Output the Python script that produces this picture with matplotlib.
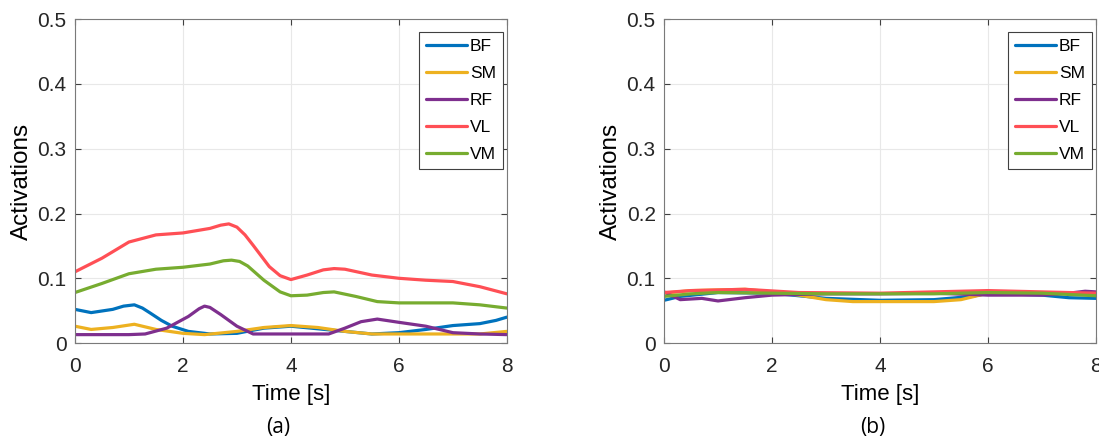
import matplotlib
matplotlib.use('Agg')
import matplotlib.pyplot as plt
import numpy as np

plt.rcParams['font.family'] = ['Liberation Sans', 'DejaVu Sans']
plt.rcParams['font.size'] = 14

muscles = ['BF', 'SM', 'RF', 'VL', 'VM']
colors = ['#0072BD', '#EDB120', '#7E2F8E', '#FF4F55', '#77AC30']

# (a) values, (t, activation)
a_BF = [(0, 0.052), (0.3, 0.047), (0.7, 0.052), (0.9, 0.057), (1.1, 0.059), (1.25, 0.054), (1.4, 0.046),
        (1.6, 0.035), (1.8, 0.026), (2.1, 0.018), (2.5, 0.014), (3.0, 0.015), (3.5, 0.023), (4.0, 0.026),
        (4.5, 0.022), (5.0, 0.018), (5.5, 0.014), (6.0, 0.016), (6.5, 0.021), (7.0, 0.027), (7.5, 0.030),
        (7.8, 0.035), (8.0, 0.040)]
a_SM = [(0, 0.026), (0.3, 0.021), (0.7, 0.024), (1.1, 0.029), (1.5, 0.021), (2.0, 0.015), (2.4, 0.013),
        (3.0, 0.018), (3.5, 0.024), (4.0, 0.027), (4.5, 0.024), (5.0, 0.018), (5.5, 0.014), (6.0, 0.014),
        (7.0, 0.014), (7.5, 0.014), (8.0, 0.018)]
a_RF = [(0, 0.013), (1.0, 0.013), (1.3, 0.014), (1.7, 0.023), (2.1, 0.041), (2.3, 0.053), (2.4, 0.057),
        (2.5, 0.055), (2.7, 0.044), (3.0, 0.026), (3.3, 0.014), (4.0, 0.014), (4.7, 0.014), (5.0, 0.023),
        (5.3, 0.033), (5.6, 0.037), (6.0, 0.032), (6.5, 0.026), (7.0, 0.016), (7.5, 0.014), (8.0, 0.013)]
a_VL = [(0, 0.110), (0.5, 0.131), (1.0, 0.156), (1.5, 0.167), (2.0, 0.170), (2.5, 0.177), (2.7, 0.182),
        (2.85, 0.184), (3.0, 0.179), (3.15, 0.167), (3.3, 0.151), (3.6, 0.118), (3.8, 0.104), (4.0, 0.098),
        (4.3, 0.105), (4.6, 0.113), (4.8, 0.115), (5.0, 0.114), (5.5, 0.105), (6.0, 0.100), (6.5, 0.097),
        (7.0, 0.095), (7.5, 0.087), (8.0, 0.076)]
a_VM = [(0, 0.078), (0.5, 0.092), (1.0, 0.107), (1.5, 0.114), (2.0, 0.117), (2.5, 0.122), (2.75, 0.127),
        (2.9, 0.128), (3.05, 0.126), (3.2, 0.119), (3.5, 0.097), (3.8, 0.079), (4.0, 0.073), (4.3, 0.074),
        (4.6, 0.078), (4.8, 0.079), (5.2, 0.072), (5.6, 0.064), (6.0, 0.062), (7.0, 0.062), (7.5, 0.059),
        (8.0, 0.054)]

# (b)
b_BF = [(0, 0.066), (0.3, 0.072), (1.0, 0.078), (2.0, 0.077), (3.0, 0.069), (4.0, 0.066), (5.0, 0.067),
        (5.7, 0.072), (6.0, 0.077), (7.0, 0.074), (7.5, 0.070), (8.0, 0.069)]
b_SM = [(0, 0.077), (0.5, 0.081), (1.5, 0.083), (2.0, 0.079), (2.5, 0.074), (3.0, 0.067), (3.5, 0.064),
        (4.0, 0.064), (5.0, 0.064), (5.5, 0.067), (6.0, 0.077), (7.0, 0.078), (8.0, 0.076)]
b_RF = [(0, 0.079), (0.3, 0.067), (0.7, 0.069), (1.0, 0.065), (1.5, 0.070), (2.0, 0.074), (3.0, 0.076),
        (4.0, 0.076), (5.0, 0.077), (6.0, 0.074), (7.0, 0.074), (7.5, 0.077), (7.8, 0.080), (8.0, 0.079)]
b_VL = [(0, 0.078), (0.5, 0.081), (1.5, 0.083), (2.5, 0.078), (4.0, 0.077), (6.0, 0.081), (7.0, 0.079),
        (8.0, 0.077)]
b_VM = [(0, 0.072), (0.5, 0.076), (1.0, 0.078), (2.0, 0.077), (3.0, 0.076), (4.0, 0.076), (5.0, 0.076),
        (6.0, 0.078), (7.0, 0.077), (8.0, 0.073)]

panels = [('(a)', [a_BF, a_SM, a_RF, a_VL, a_VM]), ('(b)', [b_BF, b_SM, b_RF, b_VL, b_VM])]

fig = plt.figure(figsize=(10.99, 4.37), dpi=100)
lefts = [0.0682, 0.6042]
caption_x = [0.253, 0.794]
for left, cx, (tag, series) in zip(lefts, caption_x, panels):
    ax = fig.add_axes([left, 0.215, 0.393, 0.741])
    for name, pts, c in zip(muscles, series, colors):
        t, v = np.array(pts).T
        ax.plot(t, v, color=c, lw=2.3, label=name, solid_joinstyle='round', solid_capstyle='round')
    ax.set_xlim(0, 8)
    ax.set_ylim(0, 0.5)
    ax.set_xticks([0, 2, 4, 6, 8])
    ax.set_yticks([0, 0.1, 0.2, 0.3, 0.4, 0.5])
    ax.set_yticklabels(['0', '0.1', '0.2', '0.3', '0.4', '0.5'])
    ax.grid(True, color='#e8e8e8', lw=0.8)
    ax.tick_params(direction='in', top=True, right=True, length=4, colors='#404040',
                   labelcolor='#262626', labelsize=15)
    ax.tick_params(axis='x', pad=10)
    ax.tick_params(axis='y', pad=6)
    for s in ax.spines.values():
        s.set_color('#7a7a7a')
    ax.set_xlabel('Time [s]', fontsize=16, labelpad=6)
    ax.set_ylabel('Activations', fontsize=17.5, labelpad=3)
    leg = ax.legend(loc='upper right', bbox_to_anchor=(0.991, 0.96), borderaxespad=0,
                    fontsize=12.5, handlelength=2.4, handletextpad=0.15,
                    borderpad=0.4, labelspacing=0.68, fancybox=False, framealpha=1)
    leg.get_frame().set_edgecolor('#404040')
    leg.get_frame().set_linewidth(0.8)
    fig.text(cx, -0.002, tag, ha='center', va='bottom', fontsize=15, family='Open Sans')

fig.savefig('out.png', dpi=100)
